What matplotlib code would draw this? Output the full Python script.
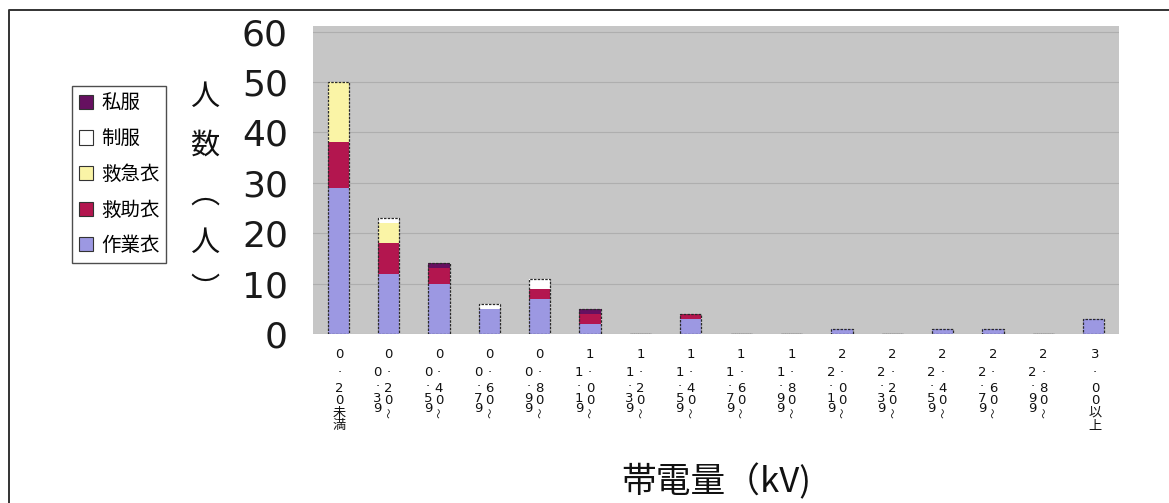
import matplotlib
matplotlib.use("Agg")
import matplotlib.pyplot as plt
import numpy as np
from matplotlib.lines import Line2D
from matplotlib.patches import Patch
from matplotlib.transforms import blended_transform_factory

plt.rcParams['font.family'] = ['Noto Sans CJK JP', 'DejaVu Sans']

# charge ranges (kV)
categories = ["0.20未満", "0.20～0.39", "0.40～0.59", "0.60～0.79", "0.80～0.99",
              "1.00～1.19", "1.20～1.39", "1.40～1.59", "1.60～1.79", "1.80～1.99",
              "2.00～2.19", "2.20～2.39", "2.40～2.59", "2.60～2.79", "2.80～2.99",
              "3.00以上"]

# number of people per clothing type (stack order bottom -> top)
sagyoi = [29, 12, 10, 5, 7, 2, 0, 3, 0, 0, 1, 0, 1, 1, 0, 3]   # 作業衣
kyujoi = [9, 6, 3, 0, 2, 2, 0, 1, 0, 0, 0, 0, 0, 0, 0, 0]      # 救助衣
kyukyui = [12, 4, 0, 0, 0, 0, 0, 0, 0, 0, 0, 0, 0, 0, 0, 0]    # 救急衣
seifuku = [0, 1, 0, 1, 2, 0, 0, 0, 0, 0, 0, 0, 0, 0, 0, 0]     # 制服
shifuku = [0, 0, 1, 0, 0, 1, 0, 0, 0, 0, 0, 0, 0, 0, 0, 0]     # 私服

series_names = ["作業衣", "救助衣", "救急衣", "制服", "私服"]
series_vals = [sagyoi, kyujoi, kyukyui, seifuku, shifuku]
series_colors = ["#9c98e2", "#b3164f", "#faf4a6", "#ffffff", "#661060"]

W, H = 1169, 503
fig = plt.figure(figsize=(W / 100, H / 100), dpi=100)
fig.patch.set_facecolor("white")

def fx(px):
    return px / W

def fy(py):
    return 1 - py / H

ax = fig.add_axes([fx(313), fy(334), fx(1119) - fx(313), fy(26) - fy(334)])
ax.set_facecolor("#c6c6c6")
x = np.arange(len(categories))
bar_w = 0.42

bottom = np.zeros(len(categories))
for name, vals, col in zip(series_names, series_vals, series_colors):
    v = np.array(vals, dtype=float)
    ax.bar(x, v, bar_w, bottom=bottom, color=col, edgecolor="none", zorder=3)
    bottom += v
# dotted outline around each stacked column
totals = bottom
ax.bar(x, totals, bar_w, facecolor="none", edgecolor="#2a2a2a",
       linewidth=0.9, linestyle=(0, (2, 1)), zorder=4)

ax.set_xlim(-0.5, len(categories) - 0.5)
ax.set_ylim(0, 61.1)
ax.set_yticks(range(0, 61, 10))
ax.yaxis.grid(True, color="#aeaeae", linewidth=0.8, zorder=0)
ax.set_axisbelow(True)
ax.tick_params(axis="y", length=0, pad=18, labelsize=26)
for lbl in ax.get_yticklabels():
    lbl.set_fontfamily("DejaVu Sans")
    lbl.set_color("#1a1a1a")
ax.set_xticks([])
for s in ax.spines.values():
    s.set_visible(False)

# vertical category labels, one glyph per position (right column first)
tr = blended_transform_factory(ax.transData, fig.transFigure)
fs = 9.5
right_y = [354, 372, 388, 400, 413, 426]
left_y = [372, 387, 398, 409]

def put_char(xc, ypx, ch):
    if ch == "～":
        ax.text(xc, fy(ypx), ch, transform=tr, fontsize=7.5, rotation=90,
                ha="center", va="center", color="#111111")
    elif ch == ".":
        ax.text(xc, fy(ypx - 4), ch, transform=tr, fontsize=fs,
                family="DejaVu Sans", ha="center", va="center",
                color="#111111")
    elif ch.isascii():
        ax.text(xc, fy(ypx), ch, transform=tr, fontsize=fs,
                family="DejaVu Sans", ha="center", va="center",
                color="#111111")
    else:
        ax.text(xc, fy(ypx), ch, transform=tr, fontsize=fs,
                ha="center", va="center", color="#111111")

for i, lab in enumerate(categories):
    if "～" in lab:
        first, second = lab.split("～")
        for ch, yy in zip(first + "～", right_y):
            put_char(i + 0.0, yy, ch)
        for ch, yy in zip(second, left_y):
            put_char(i - 0.22, yy, ch)
    else:
        for ch, yy in zip(lab, right_y):
            put_char(i + 0.02, yy, ch)

# vertical y-axis title
for ch, yy in zip(["人", "数", "︵", "人", "︶"], [97, 146, 195, 243, 290]):
    fig.text(fx(205), fy(yy), ch, fontsize=21, ha="center", va="center",
             color="#111111")

fig.text(fx(716), fy(482), "帯電量（kV)", fontsize=25, ha="center",
         va="center", color="#111111")

# legend, top entry first
handles = [Patch(facecolor=c, edgecolor="#333333", linewidth=0.8)
           for c in series_colors[::-1]]
leg = fig.legend(handles, series_names[::-1], loc="upper left",
                 bbox_to_anchor=(fx(72), fy(86)), borderaxespad=0,
                 fontsize=14, frameon=True, fancybox=False,
                 edgecolor="#222222", labelspacing=0.75, handlelength=0.75,
                 handleheight=0.75, handletextpad=0.4, borderpad=0.35)
leg.get_frame().set_linewidth(1.0)

# outer frame
fig.add_artist(Line2D([fx(9), fx(9), 1.0], [0.0, fy(10), fy(10)],
                      color="#333333", linewidth=1.4))

fig.savefig("out.png", dpi=100)
